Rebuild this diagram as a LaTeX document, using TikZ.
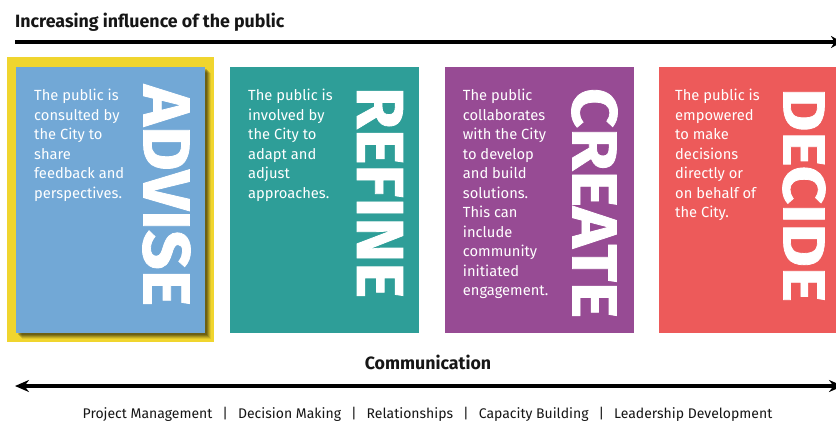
\documentclass[tikz,border=0pt]{standalone}
\usepackage{fontspec}
\setmainfont{Fira Sans}
\usetikzlibrary{arrows.meta}
\definecolor{frameyellow}{HTML}{F0D52E}
\definecolor{advblue}{HTML}{72A8D6}
\definecolor{refteal}{HTML}{2E9E98}
\definecolor{crepurple}{HTML}{974B94}
\definecolor{decred}{HTML}{ED5A5A}
\definecolor{inkcol}{HTML}{161616}
\tikzset{
  card/.style={anchor=north west, inner sep=0pt, minimum width=189pt, minimum height=266pt},
  desc/.style={anchor=base west, inner sep=0pt, text=white, font=\fontsize{14.7}{19.5}\selectfont},
  bigword/.style={rotate=-90, inner sep=0pt, text=white, font=\bfseries\addfontfeatures{FakeBold=1.2}},
  heading/.style={inner sep=0pt, text=inkcol, font=\bfseries\fontsize{17.8}{21}\selectfont},
  axis/.style={line width=3.6pt, draw=black}
}
\newcommand{\desctext}[1]{\parbox[t]{170pt}{\raggedright #1}}
\newcommand{\sepbar}{\hspace{10pt}|\hspace{10pt}}
\begin{document}
\begin{tikzpicture}[x=1pt,y=-1pt]
\useasboundingbox (0,0) rectangle (836,424);
\fill[white] (0,0) rectangle (836,424);

% title and top arrow
\node[heading, anchor=base west] (title) at (15,27) {Increasing influence of the public};
\coordinate (topstart) at (15,42);
\coordinate (topend) at (842,42);
\draw[axis, -{Stealth[length=11pt,width=12pt]}] (topstart) -- (topend);

% ADVISE card with yellow frame and shadow
\node[anchor=north west, inner sep=0pt, minimum width=207pt, minimum height=285pt, fill=frameyellow] (frame) at (7,57) {};
\fill[black, opacity=0.18] (18,69) rectangle (207,335);
\fill[black, opacity=0.18] (19,70) rectangle (208,336);
\fill[black, opacity=0.15] (20,71) rectangle (209,337);
\fill[black, opacity=0.12] (21,72) rectangle (210,338);
\fill[black, opacity=0.08] (22,73) rectangle (211,339);
\node[card, fill=advblue] (advise) at (16,67) {};
\node[desc] (advisetxt) at (34,100.7) {\desctext{The public is\\consulted by\\the City to\\share\\feedback and\\perspectives.}};
\node[bigword] (adviseword) at (166.5,195.5) {\resizebox{221pt}{47pt}{ADVISE}};

% REFINE
\node[card, fill=refteal] (refine) at (230,67) {};
\node[desc] (refinetxt) at (248,100.7) {\desctext{The public is\\involved by\\the City to\\adapt and\\adjust\\approaches.}};
\node[bigword] (refineword) at (380,192.5) {\resizebox{211pt}{46pt}{REFINE}};

% CREATE
\node[card, fill=crepurple] (create) at (445,67) {};
\node[desc] (createtxt) at (462.7,100.7) {\desctext{The public\\collaborates\\with the City\\to develop\\and build\\solutions.\\This can\\include\\community\\initiated\\engagement.}};
\node[bigword] (createword) at (594.5,203) {\resizebox{230pt}{45pt}{CREATE}};

% DECIDE
\node[card, fill=decred] (decide) at (659,67) {};
\node[desc] (decidetxt) at (675,100.7) {\desctext{The public is\\empowered\\to make\\decisions\\directly or\\on behalf of\\the City.}};
\node[bigword] (decideword) at (804,195) {\resizebox{214pt}{42pt}{DECIDE}};

% communication axis
\node[heading, anchor=base] (comm) at (428,369) {Communication};
\coordinate (botstart) at (15,386);
\coordinate (botend) at (843,386);
\draw[axis, {Stealth[length=14pt,width=12pt]}-{Stealth[length=14pt,width=12pt]}] (botstart) -- (botend);

\node[anchor=base, inner sep=0pt, text=inkcol, font=\fontsize{14}{16}\selectfont] (skills) at (427.5,418)
 {Project Management\sepbar Decision Making\sepbar Relationships\sepbar Capacity Building\sepbar Leadership Development};
\end{tikzpicture}
\end{document}
